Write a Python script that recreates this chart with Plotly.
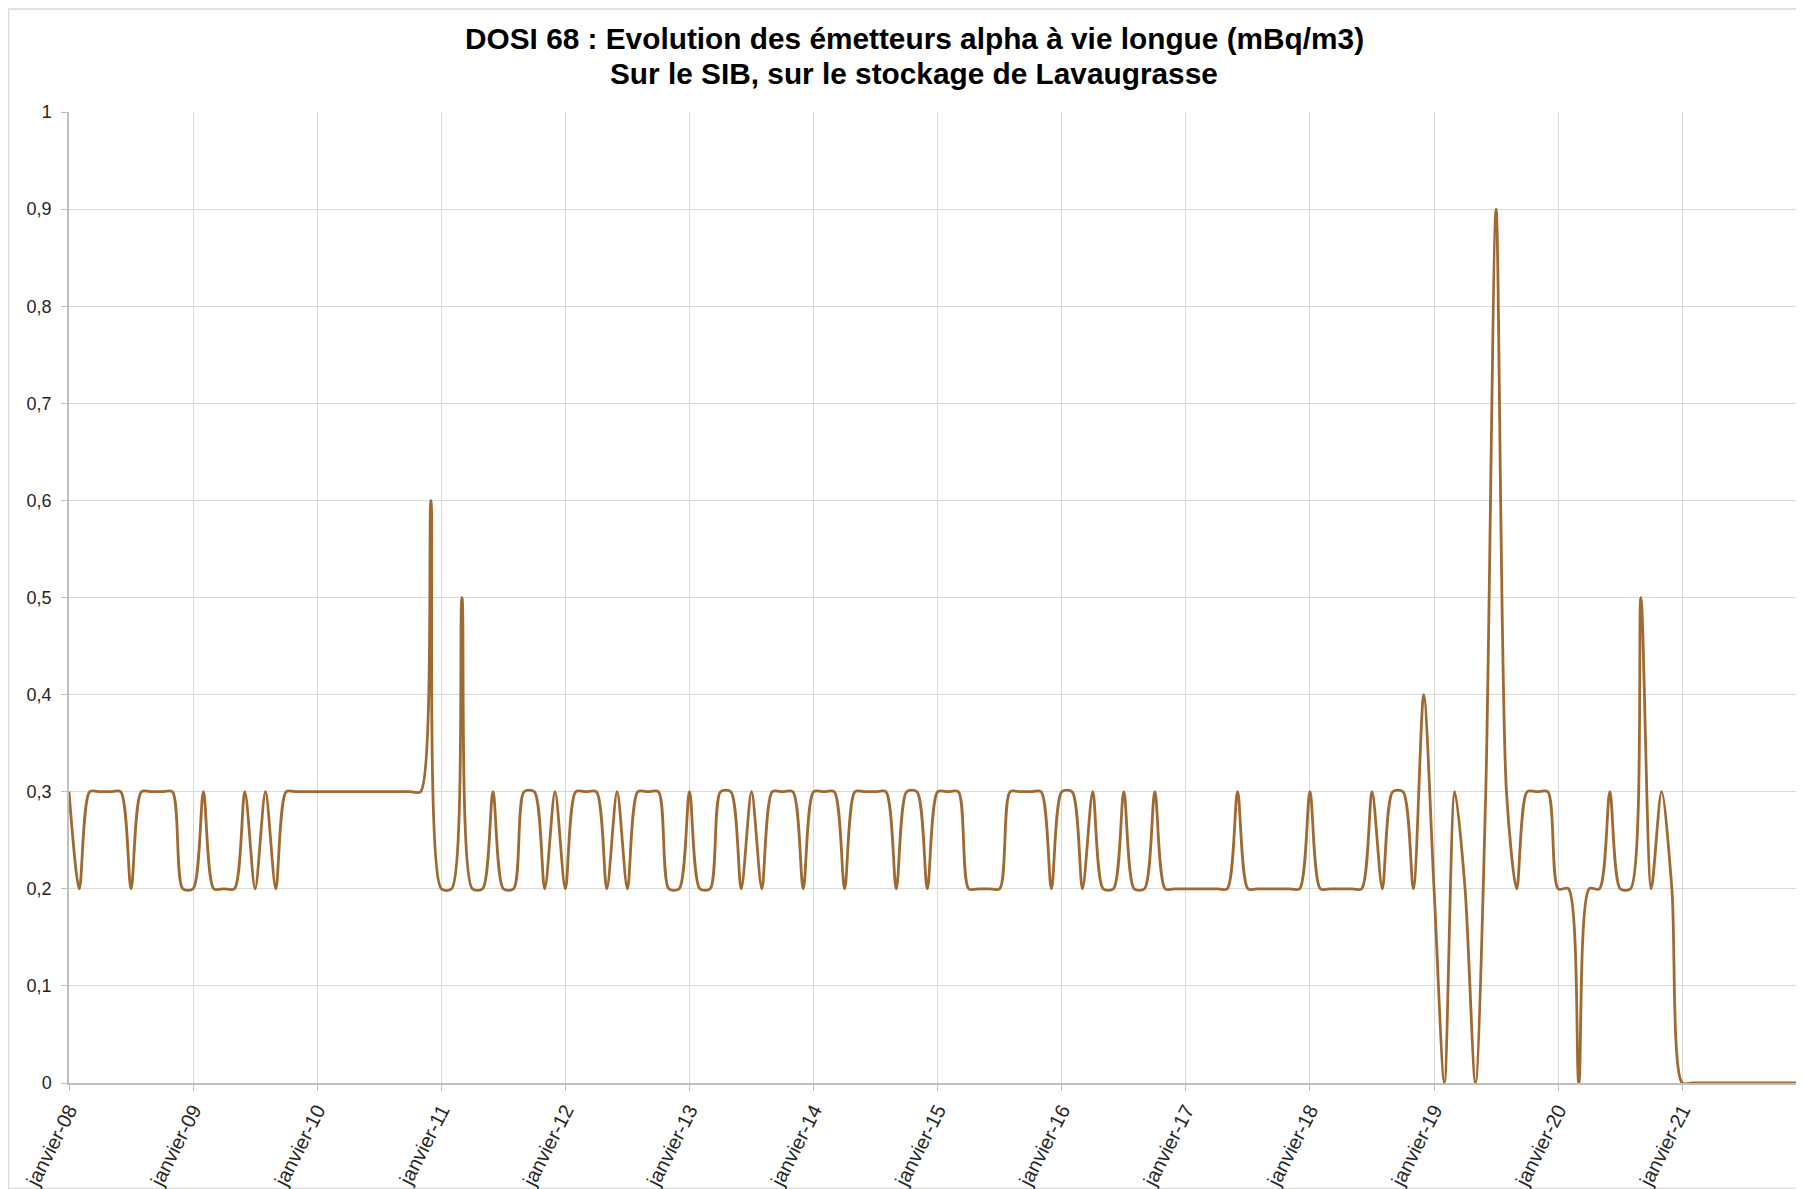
import plotly.graph_objects as go

# ---- data ----
mois = ["janvier", "février", "mars", "avril", "mai", "juin", "juillet",
        "août", "septembre", "octobre", "novembre", "décembre"]
annees = list(range(2008, 2022))
categories = [f"{m}-{a % 100:02d}" for a in annees for m in mois]

v2008 = [0.3, 0.2, 0.3, 0.3, 0.3, 0.3, 0.2, 0.3, 0.3, 0.3, 0.3, 0.2]
v2009 = [0.2, 0.3, 0.2, 0.2, 0.2, 0.3, 0.2, 0.3, 0.2, 0.3, 0.3, 0.3]
v2010 = [0.3, 0.3, 0.3, 0.3, 0.3, 0.3, 0.3, 0.3, 0.3, 0.3, 0.3, 0.6]
v2011 = [0.2, 0.2, 0.5, 0.2, 0.2, 0.3, 0.2, 0.2, 0.3, 0.3, 0.2, 0.3]
v2012 = [0.2, 0.3, 0.3, 0.3, 0.2, 0.3, 0.2, 0.3, 0.3, 0.3, 0.2, 0.2]
v2013 = [0.3, 0.2, 0.2, 0.3, 0.3, 0.2, 0.3, 0.2, 0.3, 0.3, 0.3, 0.2]
v2014 = [0.3, 0.3, 0.3, 0.2, 0.3, 0.3, 0.3, 0.3, 0.2, 0.3, 0.3, 0.2]
v2015 = [0.3, 0.3, 0.3, 0.2, 0.2, 0.2, 0.2, 0.3, 0.3, 0.3, 0.3, 0.2]
v2016 = [0.3, 0.3, 0.2, 0.3, 0.2, 0.2, 0.3, 0.2, 0.2, 0.3, 0.2, 0.2]
v2017 = [0.2, 0.2, 0.2, 0.2, 0.2, 0.3, 0.2, 0.2, 0.2, 0.2, 0.2, 0.2]
v2018 = [0.3, 0.2, 0.2, 0.2, 0.2, 0.2, 0.3, 0.2, 0.3, 0.3, 0.2, 0.4]
v2019 = [0.2, 0.0, 0.3, 0.2, 0.0, 0.3, 0.9, 0.3, 0.2, 0.3, 0.3, 0.3]
v2020 = [0.2, 0.2, 0.0, 0.2, 0.2, 0.3, 0.2, 0.2, 0.5, 0.2, 0.3, 0.2]
v2021 = [0.0, 0.0, 0.0, 0.0, 0.0, 0.0, 0.0, 0.0, 0.0, 0.0, 0.0, 0.0]

valeurs = (v2008 + v2009 + v2010 + v2011 + v2012 + v2013 + v2014 +
           v2015 + v2016 + v2017 + v2018 + v2019 + v2020 + v2021)

tick_cats = [f"janvier-{a % 100:02d}" for a in annees]

titre_1 = "DOSI 68 : Evolution des émetteurs alpha à vie longue (mBq/m3)"
titre_2 = "Sur le SIB, sur le stockage de Lavaugrasse"

# ---- figure ----
W, H = 1796, 1181
L, R, T, B = 61, 8, 104, 106
pw, ph = W - L - R, H - T - B

fig = go.Figure()
fig.add_trace(go.Scatter(
    x=categories, y=valeurs, mode="lines",
    line=dict(color="#9E6A31", width=2.8, shape="spline", smoothing=0.8),
    hoverinfo="x+y", showlegend=False,
))

font_family = "Liberation Sans, Arial, sans-serif"
fig.update_layout(
    width=W, height=H,
    margin=dict(l=L, r=R, t=T, b=B, pad=0, autoexpand=False),
    paper_bgcolor="white", plot_bgcolor="white",
    separators=", ",
    font=dict(family=font_family, color="#262626"),
)

for txt, ypix in ((titre_1, 31), (titre_2, 65.5)):
    fig.add_annotation(
        text=f"<b>{txt}</b>", showarrow=False,
        xref="paper", yref="paper",
        x=(906 - L) / pw, xanchor="center",
        y=1 + (T - ypix) / ph, yanchor="middle",
        font=dict(size=29.8, family=font_family, color="#000000"),
    )

fig.update_xaxes(
    type="category", categoryorder="array", categoryarray=categories,
    range=[0, len(categories) - 1], automargin=False,
    tickmode="array", tickvals=tick_cats, ticktext=tick_cats,
    tickangle=-63, tickfont=dict(size=20, color="#262626"),
    showgrid=True, gridcolor="#D9D9D9", gridwidth=1,
    showline=True, linecolor="#BFBFBF", linewidth=1.5,
    ticks="outside", ticklen=6, tickcolor="#BFBFBF",
    zeroline=False,
)
fig.update_yaxes(
    range=[0, 1], dtick=0.1, tick0=0, automargin=False,
    tickfont=dict(size=18, color="#262626"), ticklabelstandoff=6,
    showgrid=True, gridcolor="#D9D9D9", gridwidth=1,
    showline=True, linecolor="#BFBFBF", linewidth=1.5,
    ticks="outside", ticklen=6, tickcolor="#BFBFBF",
    zeroline=False,
)

# chart border (Excel chart area)
fig.add_shape(type="rect", xref="paper", yref="paper",
              x0=(0.5 - L) / pw, x1=(W - 1 - L) / pw,
              y0=-(B - 0.5) / ph, y1=1 + (T - 1) / ph,
              line=dict(color="#D9D9D9", width=1.5), layer="below")

fig.write_html("out.html")
